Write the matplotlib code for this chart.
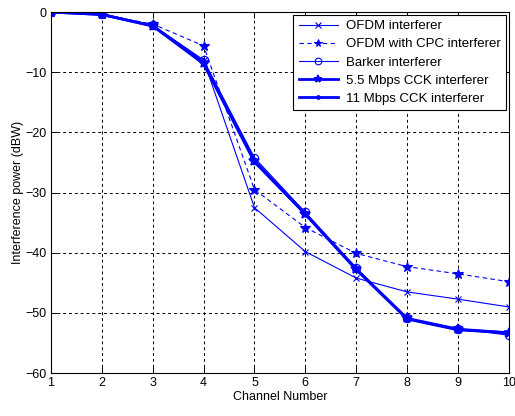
import matplotlib
matplotlib.use("Agg")
import matplotlib.pyplot as plt

plt.rcParams['font.family'] = ['Liberation Sans', 'DejaVu Sans']

channels = [1, 2, 3, 4, 5, 6, 7, 8, 9, 10]
ofdm = [0, -0.5, -2.2, -8.0, -32.5, -39.8, -44.2, -46.5, -47.7, -49.0]
ofdm_cpc = [0, -0.4, -2.0, -5.6, -29.5, -35.8, -40.1, -42.3, -43.5, -44.8]
barker = [0, -0.3, -2.2, -8.0, -24.2, -33.3, -42.5, -50.9, -52.6, -53.7]
cck55 = [0, -0.4, -2.3, -8.4, -24.7, -33.5, -42.7, -50.9, -52.7, -53.3]
cck11 = [0, -0.4, -2.3, -8.6, -24.9, -33.6, -42.8, -51.0, -52.8, -53.3]

labels = ['OFDM interferer', 'OFDM with CPC interferer', 'Barker interferer',
          '5.5 Mbps CCK interferer', '11 Mbps CCK interferer']

fig = plt.figure(figsize=(5.15, 4.16), dpi=100)
ax = fig.add_axes([0.099, 0.103, 0.889, 0.868])

blue = '#0000ff'
ax.plot(channels, ofdm, color=blue, lw=0.8, marker='x', ms=5, mew=0.8, label=labels[0])
ax.plot(channels, ofdm_cpc, color=blue, lw=0.8, ls=(0, (4, 3)), marker='*', ms=7, mew=0.8,
        label=labels[1])
ax.plot(channels, barker, color=blue, lw=0.8, marker='o', ms=6, mfc='none', mew=0.8,
        label=labels[2])
ax.plot(channels, cck55, color=blue, lw=2.0, marker='*', ms=7, mew=1.2, label=labels[3])
ax.plot(channels, cck11, color=blue, lw=2.0, marker='.', ms=6, label=labels[4])

ax.set_xlim(1, 10)
ax.set_ylim(-60, 0)
ax.set_xticks(channels)
ax.set_yticks(range(-60, 1, 10))
ax.grid(True, color='black', ls=(0, (3, 3)), lw=0.7)
ax.tick_params(direction='in', labelsize=9, length=4, width=0.7, top=True, right=True, pad=3)
for s in ax.spines.values():
    s.set_linewidth(0.8)
ax.set_xlabel('Channel Number', fontsize=9, labelpad=1)
ax.set_ylabel('Interference power (dBW)', fontsize=9, labelpad=1)

leg = ax.legend(loc='upper right', fontsize=9.5, frameon=True, fancybox=False,
                edgecolor='black', framealpha=1, borderaxespad=0.2, handlelength=3.0,
                labelspacing=0.45, markerscale=0.8, borderpad=0.4, handletextpad=0.6)
leg.get_frame().set_linewidth(0.8)

fig.savefig('out.png', dpi=100)
